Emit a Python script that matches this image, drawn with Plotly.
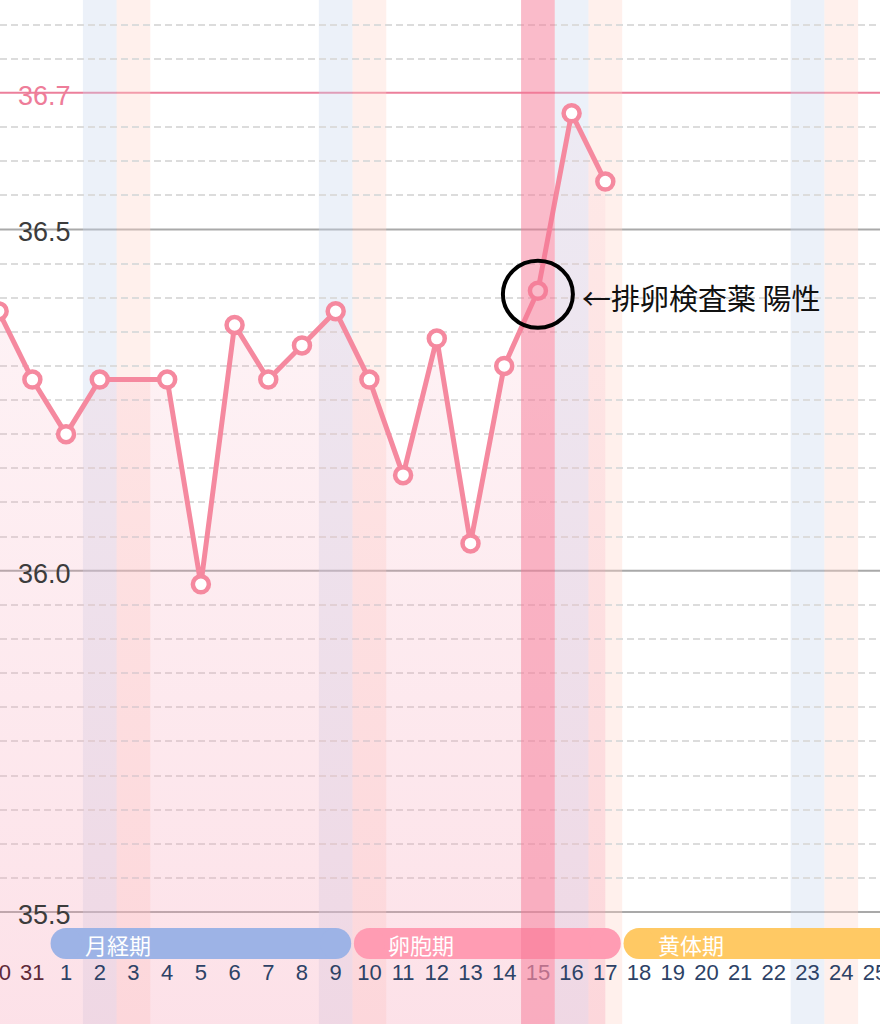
import plotly.graph_objects as go

# jours affichés (fin du mois précédent puis le cycle)
jours = ["30", "31"] + [str(d) for d in range(1, 26)]
# température basale relevée (None = pas de mesure)
temperatures = [36.38, 36.28, 36.20, 36.28, None, 36.28, 35.98, 36.36, 36.28,
                36.33, 36.38, 36.28, 36.14, 36.34, 36.04, 36.30, 36.41, 36.67, 36.57]
samedis = ["2", "9", "16", "23"]
dimanches = ["3", "10", "17", "24"]
jour_ovulation = "15"
phases = ["月経期", "卵胞期", "黄体期"]
phases_debut = ["1", "10", "18"]
phases_fin = ["9", "17", "25"]
phases_couleurs = ["#9db3e6", "#ff9cb3", "#ffc964"]
graduations = [35.5, 36.0, 36.5, 36.7]
note = "←排卵検査薬 陽性"

idx = {j: i for i, j in enumerate(jours)}
x_jours = list(range(len(jours)))
rose = "#f5899f"

fig = go.Figure()

# lignes pleines (sous la courbe)
for g in graduations:
    c = "#ec7f9b" if g == 36.7 else "#a9a9a9"
    fig.add_hline(y=g, line=dict(color=c, width=2), layer="below")
    fig.add_annotation(x=0.018, xref="paper", y=g, text=f"{g:.1f}", showarrow=False,
                       xanchor="left", yanchor="middle", yshift=-3,
                       font=dict(family="Liberation Sans, Arial", size=27,
                                 color="#ee7d99" if g == 36.7 else "#3c3c3c"))

# courbe + remplissage dégradé sous la courbe
fig.add_trace(go.Scatter(
    x=x_jours[:len(temperatures)],
    y=temperatures,
    mode="lines+markers",
    connectgaps=True,
    fill="tozeroy",
    fillgradient=dict(type="vertical", start=35.3, stop=36.7,
                      colorscale=[[0, "rgba(247,160,182,0.32)"], [1, "rgba(247,160,182,0.08)"]]),
    line=dict(color=rose, width=5),
    marker=dict(size=16, color="white", line=dict(color=rose, width=4.5)),
    hoverinfo="skip",
    showlegend=False
))

# barres des phases (bouts arrondis avec les marqueurs)
y_phase = 35.454
for nom, debut, fin, couleur in zip(phases, phases_debut, phases_fin, phases_couleurs):
    x0 = idx[debut]
    x1 = idx[fin] + (2 if nom == "黄体期" else 0)
    fig.add_trace(go.Scatter(
        x=[x0, x1], y=[y_phase, y_phase],
        mode="lines+markers",
        line=dict(color=couleur, width=31),
        marker=dict(size=31, color=couleur),
        hoverinfo="skip", showlegend=False
    ))
    fig.add_annotation(x=x0, y=y_phase, text=nom, showarrow=False, xanchor="left",
                       xshift=17, yshift=-1,
                       font=dict(family="Noto Sans CJK JP", size=22, color="white"))

# étiquettes des jours
couleurs_jours = []
for j in jours:
    if j in ["30", "31"]:
        couleurs_jours.append("#5e2a3a")
    elif j == jour_ovulation:
        couleurs_jours.append("#7d6a82")
    else:
        couleurs_jours.append("#2d4266")
fig.add_trace(go.Scatter(
    x=x_jours, y=[35.409] * len(jours),
    mode="text", text=jours,
    textfont=dict(family="Liberation Sans, Arial", size=22, color=couleurs_jours),
    hoverinfo="skip", showlegend=False
))

# bandes week-end et jour d'ovulation
for j in samedis:
    fig.add_vrect(x0=idx[j] - 0.5, x1=idx[j] + 0.5, fillcolor="rgba(200,214,238,0.35)",
                  line_width=0, layer="below")
for j in dimanches:
    fig.add_vrect(x0=idx[j] - 0.5, x1=idx[j] + 0.5, fillcolor="rgba(255,212,200,0.35)",
                  line_width=0, layer="below")
fig.add_vrect(x0=idx[jour_ovulation] - 0.5, x1=idx[jour_ovulation] + 0.5,
              fillcolor="rgba(245,120,150,0.5)", line_width=0, layer="above")

# cercle + note sur le test d'ovulation
x_ov = idx[jour_ovulation]
y_ov = temperatures[x_ov]
fig.add_shape(type="circle", xref="x", yref="y", xsizemode="pixel", ysizemode="pixel",
              xanchor=x_ov, yanchor=y_ov, x0=-35, x1=35, y0=-37, y1=30,
              line=dict(color="black", width=4))
fig.add_annotation(x=x_ov + 1.25, y=y_ov, text=note, showarrow=False, xanchor="left",
                   yshift=-6, font=dict(family="Noto Sans CJK JP", size=29, color="#111111"))

# quadrillage pointillé tous les 0.05 au-dessus de 35.5 (sauf sur les lignes pleines)
pointilles = [round(35.55 + 0.05 * k, 2) for k in range(26)]
pointilles = [v for v in pointilles if v not in graduations]

fig.update_layout(
    width=880, height=1024,
    margin=dict(l=0, r=0, t=0, b=0),
    plot_bgcolor="white", paper_bgcolor="white",
    xaxis=dict(range=[0.04, 26.15], showgrid=False, zeroline=False, showticklabels=False,
               fixedrange=True),
    yaxis=dict(range=[35.336, 36.836], tickvals=pointilles,
               showgrid=True, gridcolor="#dcdcdc", gridwidth=2, griddash="7px,4px",
               zeroline=False, showticklabels=False, fixedrange=True),
)

# pas de marge du navigateur autour du graphique
fig.write_html("out.html", config={"displayModeBar": False},
               post_script="document.body.style.margin='0';")
